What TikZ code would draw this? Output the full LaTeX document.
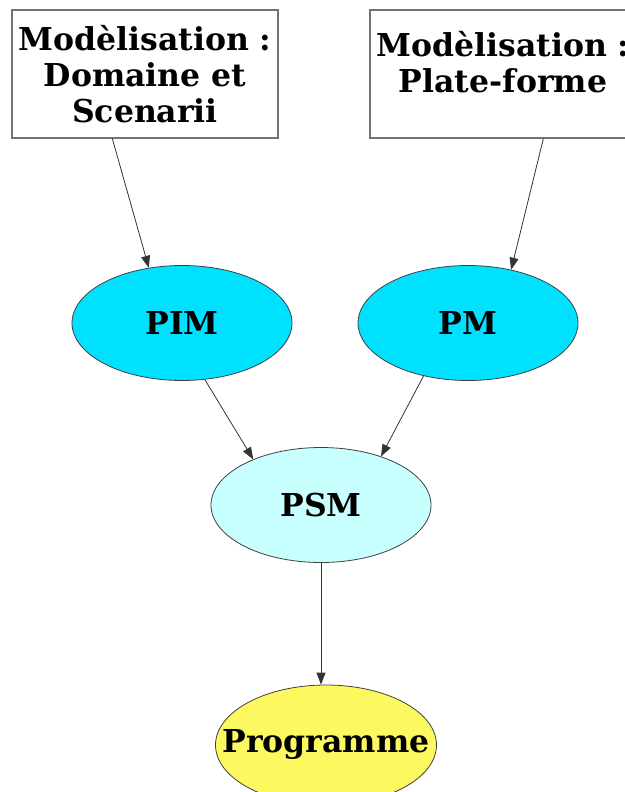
\documentclass[tikz,border=0pt]{standalone}
\usepackage{fontspec}
\setmainfont{DejaVu Serif}
\usepackage{xcolor}
\usepackage{tikz}
\usetikzlibrary{shapes,shapes.geometric,arrows,arrows.meta,positioning,calc}
\definecolor{pimcyan}{RGB}{0,224,255}
\definecolor{psmcyan}{RGB}{200,255,255}
\definecolor{progyellow}{RGB}{252,249,96}

\begin{document}
\begin{tikzpicture}[
    x=1pt, y=-1pt,
    modelbox/.style={rectangle, draw=black!55, line width=1.3pt, minimum width=266pt, minimum height=128pt, inner sep=0pt, align=center, font=\fontsize{31.5}{36}\selectfont\bfseries},
    model/.style={ellipse, draw=black!75, line width=0.8pt, minimum width=220pt, minimum height=115pt, inner xsep=-50pt, inner ysep=0pt, font=\fontsize{31.5}{36}\selectfont\bfseries},
    arrow/.style={-{Triangle[length=12pt,width=9pt]}, line width=0.8pt, draw=black!80}
]
    \useasboundingbox (0,0) rectangle (624,792);

    % Modelling boxes
    \node[modelbox] (domain) at (145,74) {Modèlisation :\\Domaine et\\Scenarii};
    \node[modelbox, text depth=24pt] (platform) at (503,74) {Modèlisation :\\Plate-forme};

    % Models
    \node[model, fill=pimcyan] (pim) at (182,323) {PIM};
    \node[model, fill=pimcyan] (pm) at (468,323) {PM};
    \node[model, fill=psmcyan] (psm) at (321,505) {PSM};
    \node[model, fill=progyellow, minimum width=221pt, minimum height=120pt] (prog) at (326,745) {Programme};

    % Transformations
    \draw[arrow] ([xshift=101pt]domain.south west) -- (pim.121);
    \draw[arrow] ([xshift=174pt]platform.south west) -- (pm.51);
    \draw[arrow] (pim.-68) -- (psm.146);
    \draw[arrow] (pm.230) -- (psm.39);
    \draw[arrow] (psm.south) -- (psm.south |- prog.north);
\end{tikzpicture}
\end{document}
